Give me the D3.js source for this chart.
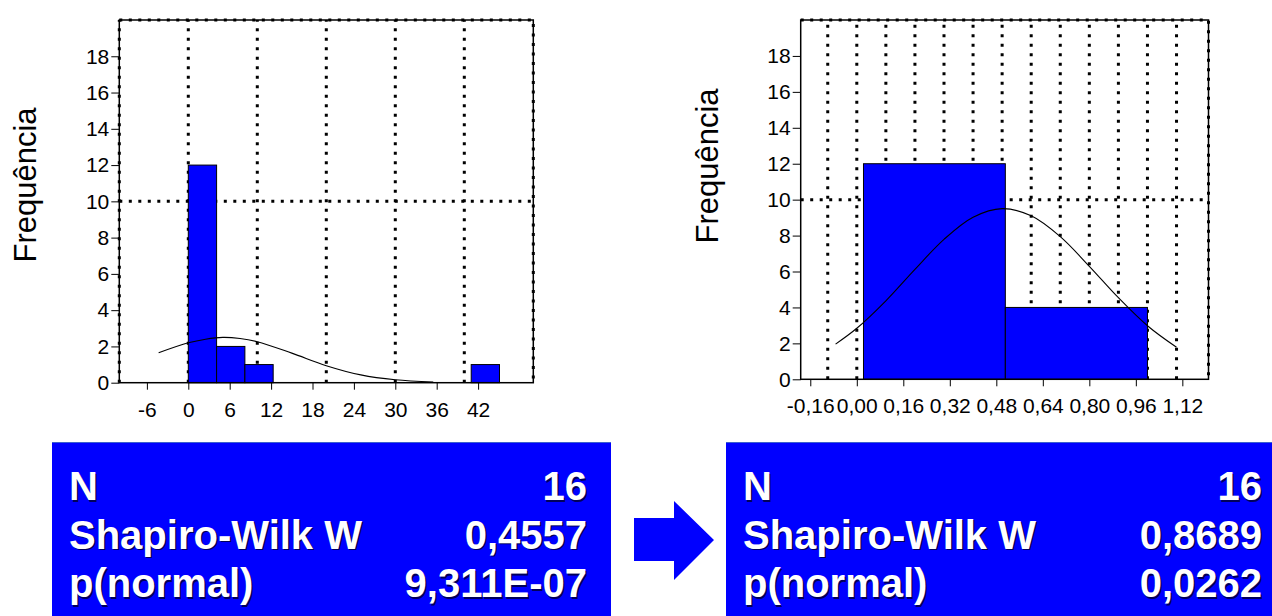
<!DOCTYPE html>
<html lang="pt">
<head>
<meta charset="UTF-8">
<title>Histogramas - Shapiro-Wilk</title>
<script src="https://d3js.org/d3.v7.min.js"></script>
<style>
  body { margin: 0; background: #fff; }
  .tick text { font-family: Arial, "Liberation Sans", sans-serif; font-size: 21px; fill: #000; }
  .tick line { stroke: #000; stroke-width: 1; }
  .ylab { font-family: Arial, "Liberation Sans", sans-serif; font-size: 31px; fill: #000; }
  .stat { font-family: Arial, "Liberation Sans", sans-serif; font-size: 40px; font-weight: bold; }
</style>
</head>
<body>
<div id="app"></div>
<script>
// ---- dados ----
var yTicks = [0, 2, 4, 6, 8, 10, 12, 14, 16, 18];
var gridY = [10];

// histograma original
var leftXTicks = [-6, 0, 6, 12, 18, 24, 30, 36, 42];
var leftGridX = [-10, 0, 10, 20, 30, 40];
var leftBinStart = [0, 4.1, 8.2, 41];
var leftBinEnd = [4.1, 8.2, 12.3, 45.1];
var leftCount = [12, 2, 1, 1];
var leftCurveX = [-4.3, 0, 2.5, 5, 7.5, 10, 15, 20, 25, 30, 35.5];
var leftCurveY = [1.65, 2.2, 2.4, 2.5, 2.44, 2.26, 1.63, 0.94, 0.43, 0.16, 0.04];

// histograma transformado
var rightXTicks = [-0.16, 0, 0.16, 0.32, 0.48, 0.64, 0.8, 0.96, 1.12];
var rightXLabels = ["-0,16", "0,00", "0,16", "0,32", "0,48", "0,64", "0,80", "0,96", "1,12"];
var rightGridX = [-0.1, 0, 0.1, 0.2, 0.3, 0.4, 0.5, 0.6, 0.7, 0.8, 0.9, 1.0, 1.1];
var rightBinStart = [0.023, 0.511];
var rightBinEnd = [0.511, 1.0];
var rightCount = [12, 4];
var rightCurveX = [-0.073, 0, 0.1, 0.2, 0.3, 0.4, 0.5, 0.6, 0.7, 0.8, 0.9, 1.0, 1.1];
var rightCurveY = [1.96, 2.84, 4.37, 6.12, 7.79, 9.02, 9.5, 9.1, 7.94, 6.29, 4.54, 2.98, 1.78];

// estatisticas
var statNames = ["N", "Shapiro-Wilk W", "p(normal)"];
var leftStats = ["16", "0,4557", "9,311E-07"];
var rightStats = ["16", "0,8689", "0,0262"];

var width = 1272, height = 616;
var blue = "#0000ff";

var svg = d3.select("#app").append("svg")
  .attr("width", width)
  .attr("height", height);

function histogram(o) {
  var x = d3.scaleLinear().domain(o.xDomain).range(o.xRange);
  var y = d3.scaleLinear().domain([0, 20]).range(o.yRange);
  var g = svg.append("g");
  var dots = "3,6.5";

  // grade pontilhada
  g.selectAll(".gx").data(o.gridX).enter().append("line")
    .attr("x1", function (d) { return x(d); })
    .attr("x2", function (d) { return x(d); })
    .attr("y1", y(0)).attr("y2", y(20))
    .attr("stroke", "#000").attr("stroke-width", 3)
    .attr("stroke-dasharray", dots);
  g.selectAll(".gy").data(gridY).enter().append("line")
    .attr("x1", x.range()[0]).attr("x2", x.range()[1])
    .attr("y1", function (d) { return y(d); })
    .attr("y2", function (d) { return y(d); })
    .attr("stroke", "#000").attr("stroke-width", 3)
    .attr("stroke-dasharray", dots);

  // barras
  g.selectAll(".bar").data(o.count).enter().append("rect")
    .attr("x", function (d, i) { return x(o.binStart[i]); })
    .attr("width", function (d, i) { return x(o.binEnd[i]) - x(o.binStart[i]); })
    .attr("y", function (d) { return y(d); })
    .attr("height", function (d) { return y(0) - y(d); })
    .attr("fill", blue)
    .attr("stroke", "#000")
    .attr("stroke-width", 1);

  // curva normal
  var line = d3.line()
    .x(function (d, i) { return x(o.curveX[i]); })
    .y(function (d) { return y(d); })
    .curve(d3.curveCatmullRom);
  g.append("path")
    .attr("d", line(o.curveY))
    .attr("fill", "none")
    .attr("stroke", "#000")
    .attr("stroke-width", 1.1);

  // moldura
  var x0 = x.range()[0], x1 = x.range()[1];
  g.append("rect")
    .attr("x", x0).attr("y", y(20))
    .attr("width", x1 - x0).attr("height", y(0) - y(20))
    .attr("fill", "none").attr("stroke", "#000").attr("stroke-width", 1.5);
  g.append("path")
    .attr("d", "M" + x0 + "," + y(20) + "H" + x1 + "V" + y(0))
    .attr("fill", "none").attr("stroke", "#000").attr("stroke-width", 3)
    .attr("stroke-dasharray", dots);

  // eixos
  var xAxis = d3.axisBottom(x).tickValues(o.xTicks).tickSize(7).tickPadding(12)
    .tickFormat(function (d, i) { return o.xLabels ? o.xLabels[i] : d; });
  g.append("g")
    .attr("transform", "translate(0," + y(0) + ")")
    .call(xAxis)
    .call(function (s) { s.select(".domain").remove(); });

  var yAxis = d3.axisLeft(y).tickValues(yTicks).tickSize(8).tickPadding(2);
  g.append("g")
    .attr("transform", "translate(" + x0 + ",0)")
    .call(yAxis)
    .call(function (s) { s.select(".domain").remove(); });

  g.append("text")
    .attr("class", "ylab")
    .attr("transform", "translate(" + o.labelX + "," + o.labelY + ") rotate(-90)")
    .attr("text-anchor", "middle")
    .text("Frequência");
}

histogram({
  xDomain: [-10, 50], xRange: [119.3, 533.3], yRange: [382.7, 20],
  xTicks: leftXTicks, gridX: leftGridX,
  binStart: leftBinStart, binEnd: leftBinEnd, count: leftCount,
  curveX: leftCurveX, curveY: leftCurveY,
  labelX: 36, labelY: 185
});

histogram({
  xDomain: [-0.193, 1.21], xRange: [800.7, 1208.5], yRange: [379.3, 20],
  xTicks: rightXTicks, xLabels: rightXLabels, gridX: rightGridX,
  binStart: rightBinStart, binEnd: rightBinEnd, count: rightCount,
  curveX: rightCurveX, curveY: rightCurveY,
  labelX: 718, labelY: 166
});

// caixas com estatisticas
function statBox(x0, x1, right, values) {
  var g = svg.append("g");
  g.append("rect")
    .attr("x", x0).attr("y", 442)
    .attr("width", x1 - x0).attr("height", height - 442)
    .attr("fill", blue);
  g.append("line")
    .attr("x1", x0).attr("x2", x1).attr("y1", 442.5).attr("y2", 442.5)
    .attr("stroke", "#3a5fd0").attr("stroke-width", 1);

  var rowY = d3.scalePoint().domain(statNames).range([500, 597]);
  [["#00005a", 1.5], ["#ffffff", 0]].forEach(function (layer) {
    g.selectAll(null).data(statNames).enter().append("text")
      .attr("class", "stat")
      .attr("x", x0 + 17 + layer[1])
      .attr("y", function (d) { return rowY(d) + layer[1]; })
      .attr("fill", layer[0])
      .text(function (d) { return d; });
    g.selectAll(null).data(values).enter().append("text")
      .attr("class", "stat")
      .attr("text-anchor", "end")
      .attr("x", right + layer[1])
      .attr("y", function (d, i) { return rowY(statNames[i]) + layer[1]; })
      .attr("fill", layer[0])
      .text(function (d) { return d; });
  });
}
statBox(52, 611, 587, leftStats);
statBox(726, 1272, 1262, rightStats);

// seta
svg.append("path")
  .attr("d", "M634,518H674V501L714,540L674,580V561H634Z")
  .attr("fill", blue);
</script>
</body>
</html>
